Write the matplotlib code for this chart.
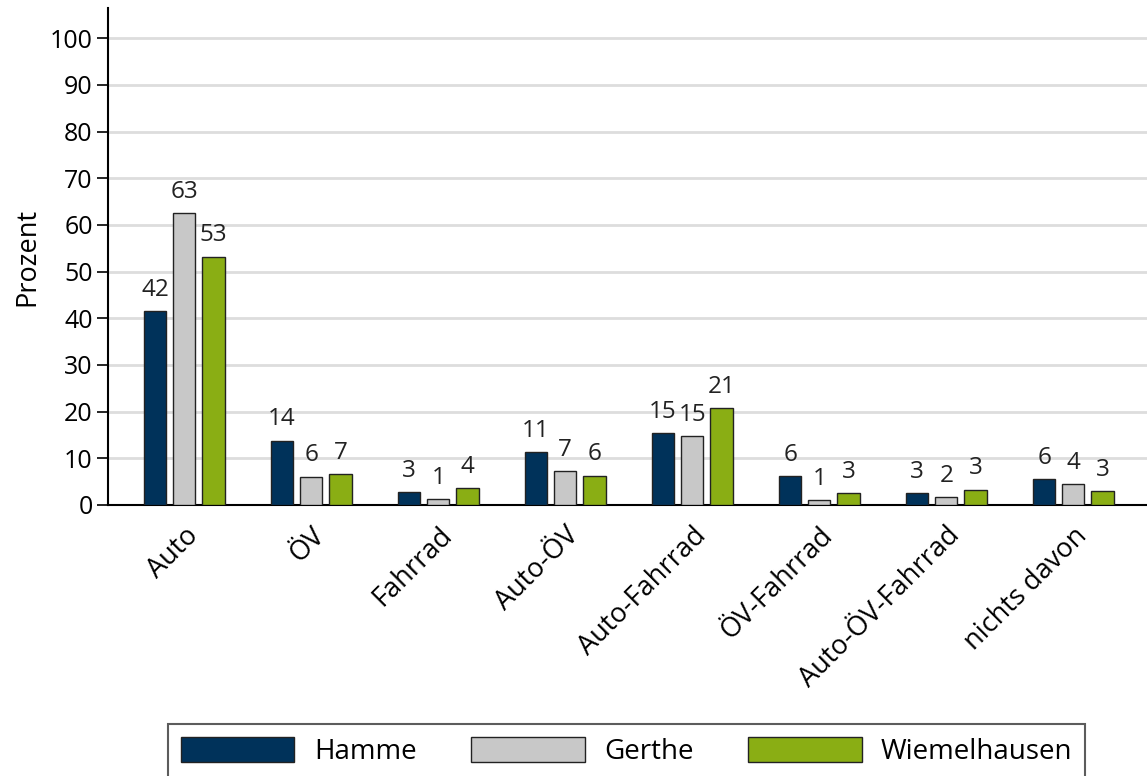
import matplotlib
matplotlib.use("Agg")
import matplotlib.pyplot as plt
import numpy as np

categories = ["Auto", "ÖV", "Fahrrad", "Auto-ÖV", "Auto-Fahrrad",
              "ÖV-Fahrrad", "Auto-ÖV-Fahrrad", "nichts davon"]
series_names = ["Hamme", "Gerthe", "Wiemelhausen"]
hamme = [41.6, 13.8, 2.8, 11.3, 15.4, 6.2, 2.6, 5.6]
gerthe = [62.6, 6.1, 1.3, 7.3, 14.8, 1.1, 1.7, 4.4]
wiemelhausen = [53.2, 6.6, 3.6, 6.3, 20.7, 2.6, 3.3, 3.0]
colors = ["#00325A", "#C8C8C8", "#8AAE14"]
yticks = list(range(0, 101, 10))

plt.rcParams['font.family'] = ['Open Sans', 'DejaVu Sans']

fig = plt.figure(figsize=(11.47, 7.76), dpi=100)
ax = fig.add_axes([108 / 1147, 1 - 505 / 776, 1 - 108 / 1147, (505 - 8) / 776])

x = np.arange(len(categories))
width = 0.175
step = 0.23
for i, (vals, name, col) in enumerate(zip([hamme, gerthe, wiemelhausen], series_names, colors)):
    pos = x + (i - 1) * step
    ax.bar(pos, vals, width, color=col, edgecolor="#222222", linewidth=1.0,
           label=name, zorder=3)
    for px, v in zip(pos, vals):
        ax.text(px, v + 2.0, f"{v:.0f}", ha="center", va="bottom",
                fontsize=17.5, color="#222222")

ax.set_xlim(-0.6, 7.58)
ax.set_ylim(0, 106.5)
ax.set_yticks(yticks)
ax.tick_params(axis="y", labelsize=18, length=8, width=1.2, pad=3)
ax.set_xticks(x)
ax.set_xticklabels(categories, rotation=45, ha="right", rotation_mode="anchor",
                   fontsize=19.5)
ax.tick_params(axis="x", length=0, pad=12)
ax.set_ylabel("Prozent", fontsize=19.5, labelpad=6)

ax.yaxis.grid(True, color="#DDDDDD", linewidth=2, zorder=0)
ax.set_axisbelow(True)
for s in ["top", "right"]:
    ax.spines[s].set_visible(False)
ax.spines["left"].set_linewidth(1.5)
ax.spines["bottom"].set_linewidth(1.5)

leg = fig.legend(loc="upper left", bbox_to_anchor=(168 / 1147, 1 - 724 / 776),
                 ncol=3, fontsize=20, frameon=True, fancybox=False,
                 edgecolor="#333333", handlelength=4.1, handleheight=1.05,
                 columnspacing=1.95, handletextpad=0.7, borderpad=0.45,
                 borderaxespad=0)
leg.get_frame().set_linewidth(1.5)

fig.savefig("out.png", dpi=100)
